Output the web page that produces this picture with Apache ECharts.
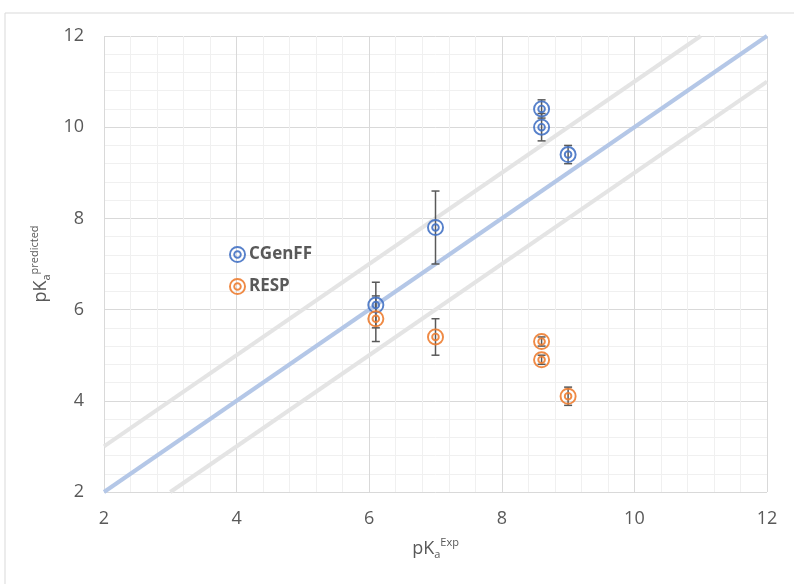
<!DOCTYPE html>
<html>
<head>
<meta charset="utf-8">
<script src="https://cdn.jsdelivr.net/npm/echarts@6/dist/echarts.min.js"></script>
<style>
  html, body { margin: 0; padding: 0; background: #fff; }
  #chart { width: 794px; height: 584px; }
</style>
</head>
<body>
<div id="chart"></div>
<script>
// data: [pKa exp, pKa predicted, error]
const cgenffX = [6.1, 7.0, 8.6, 8.6, 9.0]
const cgenffY = [6.1, 7.8, 10.4, 10.0, 9.4]
const cgenffErr = [0.5, 0.8, 0.2, 0.3, 0.2]
const respX = [6.1, 7.0, 8.6, 8.6, 9.0]
const respY = [5.8, 5.4, 5.3, 4.9, 4.1]
const respErr = [0.5, 0.4, 0.1, 0.1, 0.2]
const identityLine = [[2, 2], [12, 12]]
const upperLine = [[2, 3], [11, 12]]
const lowerLine = [[3, 2], [12, 11]]
const axisTicks = [2, 4, 6, 8, 10, 12]

const BLUE = '#4472C4'
const ORANGE = '#ED7D31'
const TEXT = '#595959'
const FONT = "'Liberation Sans Narrow', 'Open Sans', sans-serif"

// double ring marker, drawn with nonzero winding
const ring = (r, cw) => {
  const s = cw ? 1 : 0
  return `M${8 - r} 8A${r} ${r} 0 1 ${s} ${8 + r} 8A${r} ${r} 0 1 ${s} ${8 - r} 8Z`
}
const doubleRing = 'path://' + ring(8, true) + ring(6.2, false) + ring(4, true) + ring(2.2, false)

const toPoints = (xs, ys, es) => xs.map((x, i) => [x, ys[i], es[i]])

const errorBars = (name, pts) => ({
  name: name + ' err',
  type: 'custom',
  z: 3,
  data: pts,
  renderItem: (params, api) => {
    const x = api.value(0)
    const y = api.value(1)
    const e = api.value(2)
    const top = api.coord([x, y + e])
    const bot = api.coord([x, y - e])
    const cap = 4
    const style = { stroke: TEXT, lineWidth: 1.5 }
    return {
      type: 'group',
      children: [
        { type: 'line', shape: { x1: top[0], y1: top[1], x2: bot[0], y2: bot[1] }, style },
        { type: 'line', shape: { x1: top[0] - cap, y1: top[1], x2: top[0] + cap, y2: top[1] }, style },
        { type: 'line', shape: { x1: bot[0] - cap, y1: bot[1], x2: bot[0] + cap, y2: bot[1] }, style }
      ]
    }
  }
})

const axisName = (sup) => ({
  name: '{b|pK}{sub|a}{sup|' + sup + '}',
  nameLocation: 'middle',
  nameTextStyle: {
    rich: {
      b: { fontSize: 18, color: TEXT, fontFamily: FONT },
      sub: { fontSize: 11, color: TEXT, fontFamily: FONT, padding: [12, 0, 0, 0] },
      sup: { fontSize: 11, color: TEXT, fontFamily: FONT, padding: [0, 0, 12, 0] }
    }
  }
})

const commonAxis = {
  type: 'value',
  min: axisTicks[0],
  max: axisTicks[axisTicks.length - 1],
  interval: 2,
  axisLine: { show: false },
  axisTick: { show: false },
  axisLabel: { color: TEXT, fontSize: 18, fontFamily: FONT, margin: 18 },
  splitLine: { show: true, lineStyle: { color: '#D9D9D9', width: 1 } },
  minorTick: { show: false, splitNumber: 5 },
  minorSplitLine: { show: true, lineStyle: { color: '#F0F0F0', width: 1 } }
}

const chart = echarts.init(document.getElementById('chart'))

chart.setOption({
  backgroundColor: '#fff',
  animation: false,
  graphic: [{
    type: 'rect',
    shape: { x: 5, y: 13, width: 820, height: 600 },
    style: { fill: 'none', stroke: '#D9D9D9', lineWidth: 1 },
    z: -1
  }],
  grid: { left: 104, right: 27, top: 36, bottom: 92 },
  legend: {
    orient: 'vertical',
    left: 224,
    top: 241,
    itemWidth: 17,
    itemHeight: 17,
    itemGap: 15,
    data: [
      { name: 'CGenFF', icon: doubleRing },
      { name: 'RESP', icon: doubleRing }
    ],
    textStyle: { color: TEXT, fontSize: 17, fontWeight: 'bold', fontFamily: "'Open Sans', sans-serif", padding: [0, 0, 0, -2] }
  },
  xAxis: Object.assign({}, commonAxis, axisName('Exp'), { nameGap: 45 }),
  yAxis: Object.assign({}, commonAxis, axisName('predicted'), { nameGap: 48, axisLabel: Object.assign({}, commonAxis.axisLabel, { margin: 20 }) }),
  series: [
    {
      name: 'y=x+1', type: 'line', data: upperLine, symbol: 'none', silent: true, z: 1,
      lineStyle: { color: '#E4E4E4', width: 4 }
    },
    {
      name: 'y=x-1', type: 'line', data: lowerLine, symbol: 'none', silent: true, z: 1,
      lineStyle: { color: '#E4E4E4', width: 4 }
    },
    {
      name: 'y=x', type: 'line', data: identityLine, symbol: 'none', silent: true, z: 2,
      lineStyle: { color: '#B4C7E7', width: 4 }
    },
    errorBars('CGenFF', toPoints(cgenffX, cgenffY, cgenffErr)),
    errorBars('RESP', toPoints(respX, respY, respErr)),
    {
      name: 'CGenFF', type: 'scatter', z: 4,
      data: toPoints(cgenffX, cgenffY, cgenffErr),
      symbol: doubleRing, symbolSize: 17,
      itemStyle: { color: BLUE, opacity: 0.9 }
    },
    {
      name: 'RESP', type: 'scatter', z: 4,
      data: toPoints(respX, respY, respErr),
      symbol: doubleRing, symbolSize: 17,
      itemStyle: { color: ORANGE, opacity: 0.9 }
    }
  ]
})
</script>
</body>
</html>
